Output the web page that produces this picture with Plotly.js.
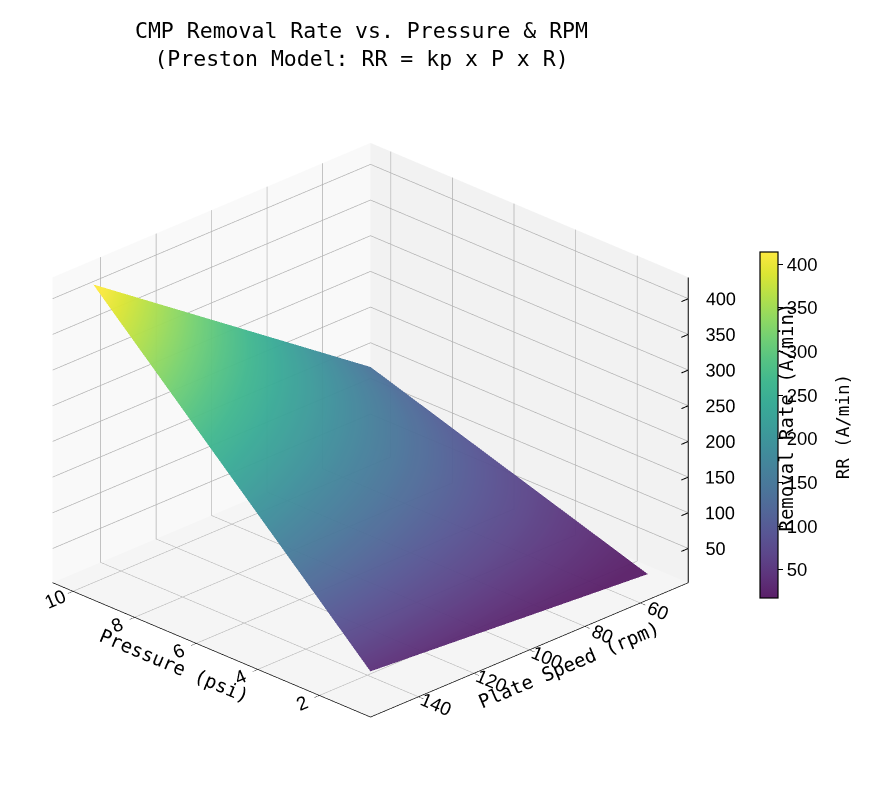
<!DOCTYPE html>
<html>
<head>
<meta charset="utf-8">
<script src="https://cdn.plot.ly/plotly-3.0.1.min.js"></script>
<style>
  html, body { margin: 0; padding: 0; background: #fff; }
  #chart { width: 869px; height: 787px; }
</style>
</head>
<body>
<div id="chart"></div>
<script>
// Pressure (psi) along x, plate speed (rpm) along y
var pressure = [1, 2, 3, 4, 5, 6, 7, 8, 9, 10];
var speed = [50, 60, 70, 80, 90, 100, 110, 120, 130, 140, 150];

// Removal rate (A/min), one row per plate speed
var rr_50 = [14, 28, 42, 56, 70, 84, 98, 112, 126, 140];
var rr_60 = [16.8, 33.6, 50.4, 67.2, 84, 100.8, 117.6, 134.4, 151.2, 168];
var rr_70 = [19.6, 39.2, 58.8, 78.4, 98, 117.6, 137.2, 156.8, 176.4, 196];
var rr_80 = [22.4, 44.8, 67.2, 89.6, 112, 134.4, 156.8, 179.2, 201.6, 224];
var rr_90 = [25.2, 50.4, 75.6, 100.8, 126, 151.2, 176.4, 201.6, 226.8, 252];
var rr_100 = [28, 56, 84, 112, 140, 168, 196, 224, 252, 280];
var rr_110 = [30.8, 61.6, 92.4, 123.2, 154, 184.8, 215.6, 246.4, 277.2, 308];
var rr_120 = [33.6, 67.2, 100.8, 134.4, 168, 201.6, 235.2, 268.8, 302.4, 336];
var rr_130 = [36.4, 72.8, 109.2, 145.6, 182, 218.4, 254.8, 291.2, 327.6, 364];
var rr_140 = [39.2, 78.4, 117.6, 156.8, 196, 235.2, 274.4, 313.6, 352.8, 392];
var rr_150 = [42, 84, 126, 168, 210, 252, 294, 336, 378, 420];

var pressure_ticks = [2, 4, 6, 8, 10];
var speed_ticks = [60, 80, 100, 120, 140];
var rr_ticks = [50, 100, 150, 200, 250, 300, 350, 400];
var cbar_ticks = [50, 100, 150, 200, 250, 300, 350, 400];

// axis limits (matplotlib-style padding around the data)
var p_range = [0.34, 10.66];
var s_range = [42.7, 157.3];
var rr_range = [2, 430];

var mono = '"DejaVu Sans Mono", monospace';
var sans = '"Liberation Sans", Arial, sans-serif';

// viridis, washed a little towards white like an alpha-blended surface
var viridis = ['#440154', '#48186a', '#472d7b', '#424086', '#3b528b', '#33638d', '#2c728e', '#26828e',
    '#21918c', '#1fa088', '#28ae80', '#3fbc73', '#5ec962', '#84d44b', '#addc30', '#d8e219', '#fde725'];
function wash(hex, a) {
    var r = parseInt(hex.slice(1, 3), 16), g = parseInt(hex.slice(3, 5), 16), b = parseInt(hex.slice(5, 7), 16);
    var mix = function (c) { return Math.round(a * c + (1 - a) * 250); };
    return 'rgb(' + mix(r) + ',' + mix(g) + ',' + mix(b) + ')';
}
var faded = viridis.map(function (c, i) { return [i / (viridis.length - 1), wash(c, 0.88)]; });

var surface = {
    type: 'surface',
    x: pressure,
    y: speed,
    z: [rr_50, rr_60, rr_70, rr_80, rr_90, rr_100, rr_110, rr_120, rr_130, rr_140, rr_150],
    colorscale: faded,
    cmin: 17.6,
    cmax: 414,
    opacity: 0.96,
    showscale: true,
    lighting: { ambient: 1, diffuse: 0, specular: 0, roughness: 1, fresnel: 0 },
    hoverinfo: 'skip',
    contours: {
        x: { highlight: false },
        y: { highlight: false },
        z: { highlight: false }
    },
    colorbar: {
        x: 0.8746,
        xanchor: 'left',
        xpad: 0,
        y: 0.46,
        yanchor: 'middle',
        ypad: 0,
        len: 0.44,
        lenmode: 'fraction',
        thickness: 18,
        outlinewidth: 1.2,
        outlinecolor: '#000',
        ticks: 'outside',
        ticklen: 5,
        tickcolor: '#000',
        tickvals: cbar_ticks,
        tickfont: { family: sans, size: 18.5, color: '#000' }
    }
};

// z axis drawn on the right-hand vertical edge, as matplotlib does
var zEdge = {
    type: 'scatter3d',
    mode: 'lines',
    x: [p_range[0], p_range[0]],
    y: [s_range[0], s_range[0]],
    z: rr_range,
    line: { color: '#000', width: 2 },
    hoverinfo: 'skip',
    showlegend: false
};
var tx = [], ty = [], tz = [];
rr_ticks.forEach(function (v) {
    tx.push(p_range[0], p_range[0], null);
    ty.push(s_range[0], s_range[0] + 2.5, null);
    tz.push(v, v, null);
});
var zTicks = {
    type: 'scatter3d',
    mode: 'lines',
    x: tx, y: ty, z: tz,
    line: { color: '#000', width: 2 },
    hoverinfo: 'skip',
    showlegend: false
};
var zLabels = {
    type: 'scatter3d',
    mode: 'text',
    x: rr_ticks.map(function () { return p_range[0]; }),
    y: rr_ticks.map(function () { return s_range[0]; }),
    z: rr_ticks,
    text: rr_ticks.map(function (v) { return '             ' + v; }),
    textposition: 'middle right',
    textfont: { family: sans, size: 18, color: '#000' },
    hoverinfo: 'skip',
    showlegend: false
};

function axis(title, ticks, range, bg) {
    return {
        title: { text: title, font: { family: mono, size: 19, color: '#000' } },
        range: range,
        tickvals: ticks,
        tickfont: { family: sans, size: 15, color: '#000' },
        showbackground: true,
        backgroundcolor: bg,
        gridcolor: '#b0b0b0',
        gridwidth: 1.5,
        showline: true,
        linecolor: '#000',
        linewidth: 1.5,
        ticks: 'outside',
        tickcolor: '#000',
        ticklen: 7,
        zeroline: false,
        showspikes: false
    };
}

var zaxis = axis('', rr_ticks, rr_range, '#f5f5f5');
zaxis.showticklabels = false;
zaxis.showline = false;
zaxis.ticks = '';

var layout = {
    width: 869,
    height: 787,
    margin: { l: 0, r: 0, t: 0, b: 0 },
    paper_bgcolor: '#fff',
    title: {
        text: 'CMP Removal Rate vs. Pressure & RPM<br>(Preston Model: RR = kp x P x R)',
        x: 0.416,
        xanchor: 'center',
        y: 0.952,
        yanchor: 'top',
        font: { family: mono, size: 21.5, color: '#000' }
    },
    scene: {
        domain: { x: [0, 0.8527], y: [0, 0.907] },
        aspectmode: 'manual',
        aspectratio: { x: 1.259, y: 1.259, z: 0.944 },
        camera: {
            eye: { x: -1.102, y: 1.102, z: 0.727 },
            center: { x: 0, y: 0, z: 0 },
            up: { x: 0, y: 0, z: 1 },
            projection: { type: 'orthographic' }
        },
        xaxis: axis('Pressure (psi)', pressure_ticks, p_range, '#f9f9f9'),
        yaxis: axis('Plate Speed (rpm)', speed_ticks, s_range, '#f2f2f2'),
        zaxis: zaxis
    },
    annotations: [{
        text: 'Removal Rate (A/min)',
        textangle: -90,
        xref: 'paper', yref: 'paper',
        x: 786 / 869, y: 0.4695,
        xanchor: 'center', yanchor: 'middle',
        showarrow: false,
        font: { family: mono, size: 19, color: '#000' }
    }, {
        text: 'RR (A/min)',
        textangle: -90,
        xref: 'paper', yref: 'paper',
        x: 843 / 869, y: 0.457,
        xanchor: 'center', yanchor: 'middle',
        showarrow: false,
        font: { family: mono, size: 17.5, color: '#000' }
    }],
    showlegend: false
};

Plotly.newPlot('chart', [surface, zEdge, zTicks, zLabels], layout, { displayModeBar: false });
</script>
</body>
</html>
